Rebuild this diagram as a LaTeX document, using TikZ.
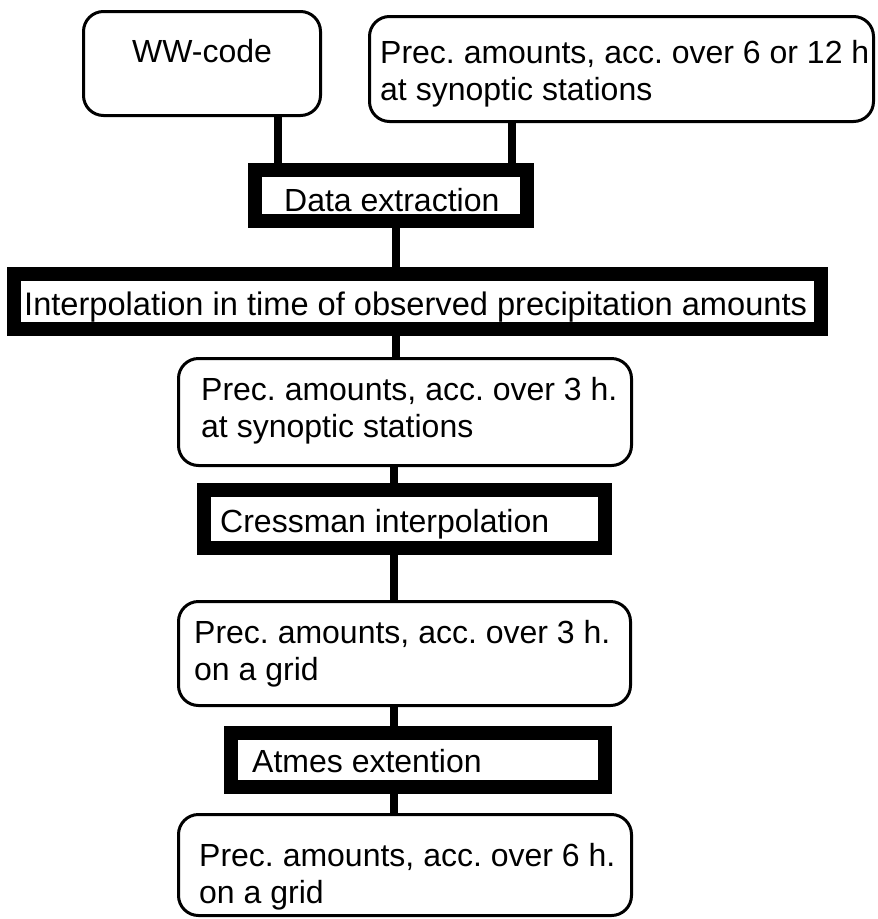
\documentclass[tikz,border=0pt]{standalone}
\usepackage{fontspec}
\setmainfont{Liberation Sans}
\frenchspacing
\begin{document}
\begin{tikzpicture}[x=1pt,y=-1pt,
  rbox/.style={draw, line width=3pt, rounded corners=20pt, fill=white, inner sep=0pt},
  pbox/.style={draw, line width=14pt, fill=white, inner sep=0pt},
  txt/.style={inner sep=0pt, anchor=base west, font=\fontsize{32}{37}\selectfont},
  link/.style={line width=8pt}]
\useasboundingbox (0,0) rectangle (878,919);
% vertical positions of the connectors
\coordinate (spA) at (396,0);
\coordinate (spB) at (394,0);
\coordinate (spL) at (278,0);
\coordinate (spR) at (512,0);

% box outlines, named so the connectors can attach to them
\path (202,63.5) node[minimum width=237pt, minimum height=104pt] (ww) {};
\path (621.5,69) node[minimum width=504pt, minimum height=105pt] (obs) {};
\path (391,195.5) node[minimum width=272pt, minimum height=51pt] (ext) {};
\path (417.5,301.5) node[minimum width=807pt, minimum height=55pt] (itp) {};
\path (405,412) node[minimum width=453pt, minimum height=107pt] (st3) {};
\path (404.5,519) node[minimum width=401pt, minimum height=58pt] (cre) {};
\path (404.5,653.5) node[minimum width=452pt, minimum height=104pt] (gr3) {};
\path (418,760) node[minimum width=374pt, minimum height=54pt] (atm) {};
\path (405,865) node[minimum width=453pt, minimum height=101pt] (gr6) {};

% connectors (drawn first, boxes cover their ends)
\draw[link] (ww.south -| spL) -- (ext.north -| spL);
\draw[link] (obs.south -| spR) -- (ext.north -| spR);
\draw[link] (ext.south -| spA) -- (itp.north -| spA);
\draw[link] (itp.south -| spA) -- (st3.north -| spA);
\draw[link] (st3.south -| spB) -- (cre.north -| spB);
\draw[link] (cre.south -| spB) -- (gr3.north -| spB);
\draw[link] (gr3.south -| spB) -- (atm.north -| spB);
\draw[link] (atm.south -| spB) -- (gr6.north -| spB);

% rounded data boxes
\node[rbox, minimum width=237pt, minimum height=104pt] at (ww) {};
\node[rbox, minimum width=504pt, minimum height=105pt] at (obs) {};
\node[rbox, minimum width=453pt, minimum height=107pt] at (st3) {};
\node[rbox, minimum width=452pt, minimum height=104pt] at (gr3) {};
\node[rbox, minimum width=453pt, minimum height=101pt] at (gr6) {};

% heavy process boxes
\node[pbox, minimum width=272pt, minimum height=51pt] at (ext) {};
\node[pbox, minimum width=807pt, minimum height=55pt] at (itp) {};
\node[pbox, minimum width=401pt, minimum height=58pt] at (cre) {};
\node[pbox, minimum width=374pt, minimum height=54pt] at (atm) {};

% texts
\node[txt, anchor=base] (wwt) at (202,62) {WW-code};
\node[txt] (obst) at (380,63) {\begin{tabular}[t]{@{}l@{}}Prec. amounts, acc. over 6 or 12 h\\at synoptic stations\end{tabular}};
\node[txt] (extt) at (284,211) {Data extraction};
\node[txt, font=\fontsize{32.6}{37}\selectfont] (itpt) at (24,315) {Interpolation in time of observed precipitation amounts};
\node[txt] (st3t) at (201,400) {\begin{tabular}[t]{@{}l@{}}Prec. amounts, acc. over 3 h.\\at synoptic stations\end{tabular}};
\node[txt] (cret) at (220,532) {Cressman interpolation};
\node[txt] (gr3t) at (194,643) {\begin{tabular}[t]{@{}l@{}}Prec. amounts, acc. over 3 h.\\on a grid\end{tabular}};
\node[txt] (atmt) at (252,772) {Atmes extention};
\node[txt] (gr6t) at (199,866) {\begin{tabular}[t]{@{}l@{}}Prec. amounts, acc. over 6 h.\\on a grid\end{tabular}};
\end{tikzpicture}
\end{document}
